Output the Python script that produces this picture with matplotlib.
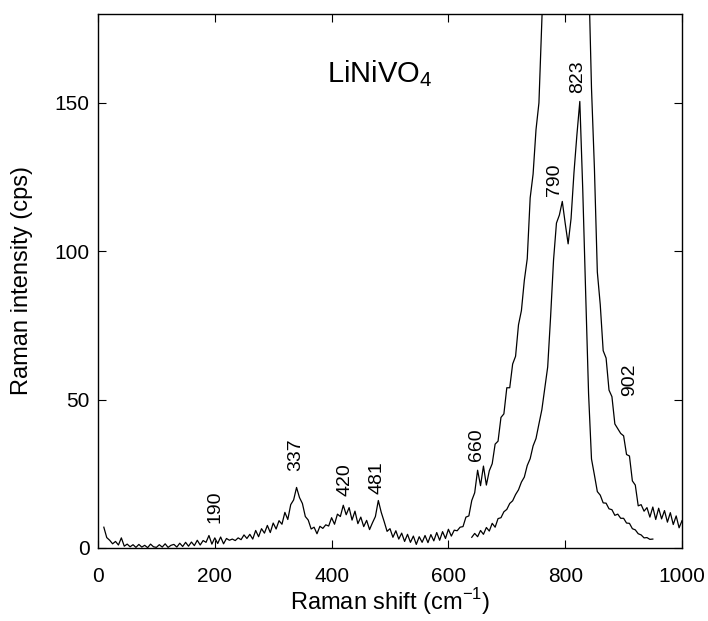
#!/usr/bin/env python3
"""Raman spectrum of LiNiVO4 (two scans), redrawn from the figure."""

import matplotlib
matplotlib.use('Agg')
import matplotlib.pyplot as plt
from matplotlib import font_manager
import numpy as np

# Wide scan, 10-1000 cm-1 every 5 cm-1
shift_wide = np.arange(10, 1001, 5)
counts_wide = [
    7.0, 3.5, 2.6, 1.4, 2.2, 1.0, 3.4, 0.6, 1.3, 0.4,
    1.1, 0.2, 1.2, 0.3, 0.9, 0.1, 1.3, 0.4, 0.2, 1.1,
    0.3, 1.4, 0.2, 0.9, 1.2, 0.3, 1.6, 0.5, 1.9, 0.6,
    2.0, 0.8, 2.6, 1.0, 2.5, 1.9, 4.2, 1.3, 3.4, 1.5,
    3.7, 1.4, 3.2, 2.6, 3.0, 2.5, 3.4, 2.8, 4.4, 3.2,
    4.6, 3.0, 5.9, 3.8, 6.5, 5.0, 7.6, 5.2, 8.4, 6.4,
    9.2, 8.0, 12.0, 9.6, 14.6, 16.2, 20.4, 17.0, 15.0, 10.6,
    9.4, 6.4, 7.0, 4.8, 7.3, 6.6, 7.8, 7.4, 10.2, 8.0,
    11.4, 10.6, 14.4, 11.2, 13.6, 9.4, 12.4, 8.2, 10.4, 7.2,
    9.3, 6.2, 8.5, 10.6, 16.0, 12.0, 8.9, 5.6, 6.5, 3.6,
    5.8, 3.0, 5.0, 2.2, 4.6, 1.9, 4.0, 1.2, 3.8, 1.9,
    4.2, 1.8, 4.5, 2.4, 5.2, 2.6, 5.5, 3.2, 6.3, 4.0,
    6.0, 5.8, 7.0, 7.2, 10.4, 10.8, 16.0, 18.6, 26.2, 21.0,
    27.6, 21.2, 26.0, 28.4, 35.0, 36.0, 44.0, 45.2, 54.0, 54.0,
    62.0, 64.6, 75.2, 80.0, 90.2, 97.5, 118.0, 126.0, 141.0, 150.0,
    178.0, 205.0, 230.0, 250.0, 265.0, 275.0, 280.0, 285.0, 290.0, 292.0,
    290.0, 288.0, 285.0, 280.0, 270.0, 250.0, 195.0, 155.0, 128.0, 93.0,
    82.0, 66.5, 64.0, 53.2, 51.0, 41.8, 40.2, 38.6, 37.8, 31.5,
    31.0, 22.6, 21.2, 14.2, 14.6, 12.4, 13.6, 10.4, 13.8, 9.6,
    13.4, 9.8, 12.6, 8.7, 11.9, 7.9, 10.8, 6.8, 9.2,
]

# Narrow scan, 640-950 cm-1 every 5 cm-1
shift_narrow = np.arange(640, 951, 5)
counts_narrow = [
    3.6, 4.9, 3.8, 5.9, 4.6, 6.9, 5.7, 8.3, 7.0, 9.9,
    10.2, 12.2, 13.0, 15.0, 15.9, 18.0, 19.6, 22.2, 23.9, 27.8,
    30.1, 34.4, 36.9, 41.8, 46.6, 53.8, 61.0, 78.0, 97.0, 109.5,
    112.2, 116.8, 109.4, 102.5, 111.0, 126.5, 139.2, 150.5, 121.0, 86.0,
    52.0, 30.0, 24.6, 19.0, 17.8, 15.2, 15.1, 13.2, 12.9, 11.0,
    11.4, 10.0, 10.0, 8.4, 8.3, 6.5, 6.1, 4.8, 4.4, 3.4,
    3.5, 2.9, 3.0,
]

# Peak annotations: label, x, y (centre of the rotated text)
peak_labels = ['190', '337', '420', '481', '660', '790', '823', '902']
peak_x = [200, 339, 423, 477, 648, 782, 822, 911]
peak_y = [13.8, 31.3, 23.0, 23.6, 34.7, 124.0, 158.9, 56.6]


def pick_font(names):
    available = {f.name for f in font_manager.fontManager.ttflist}
    for n in names:
        if n in available:
            return n
    return 'DejaVu Sans'


def main():
    base = pick_font(['Liberation Sans', 'Arimo', 'DejaVu Sans'])
    plt.rcParams['font.family'] = [base, 'DejaVu Sans']
    plt.rcParams['mathtext.fontset'] = 'custom'
    plt.rcParams['mathtext.rm'] = base

    fig = plt.figure(figsize=(7.08, 6.21), dpi=100)
    ax = fig.add_axes([0.1384, 0.1176, 0.8249, 0.86])

    ax.plot(shift_wide, counts_wide, color='black', linewidth=0.9)
    ax.plot(shift_narrow, counts_narrow, color='black', linewidth=0.9)

    for lab, x, y in zip(peak_labels, peak_x, peak_y):
        ax.text(x, y, lab, rotation=90, ha='center', va='center',
                fontsize=14)

    ax.text(483, 160, r'LiNiVO$_4$', ha='center', va='center', fontsize=21)

    ax.set_xlim(0, 1000)
    ax.set_ylim(0, 180)
    ax.set_xticks([0, 200, 400, 600, 800, 1000])
    ax.set_yticks([0, 50, 100, 150])
    ax.tick_params(direction='in', top=True, right=True, length=6,
                   width=0.8, labelsize=15)
    ax.tick_params(axis='y', pad=6)
    ax.tick_params(axis='x', pad=14)
    for sp in ax.spines.values():
        sp.set_linewidth(1.0)

    ax.set_xlabel(r'Raman shift (cm$^{-1}$)', fontsize=17)
    ax.set_ylabel('Raman intensity (cps)', fontsize=17)
    ax.xaxis.set_label_coords(0.5, -0.072)
    ax.yaxis.set_label_coords(-0.112, 0.5)

    fig.savefig('out.png', dpi=100)


if __name__ == "__main__":
    main()
